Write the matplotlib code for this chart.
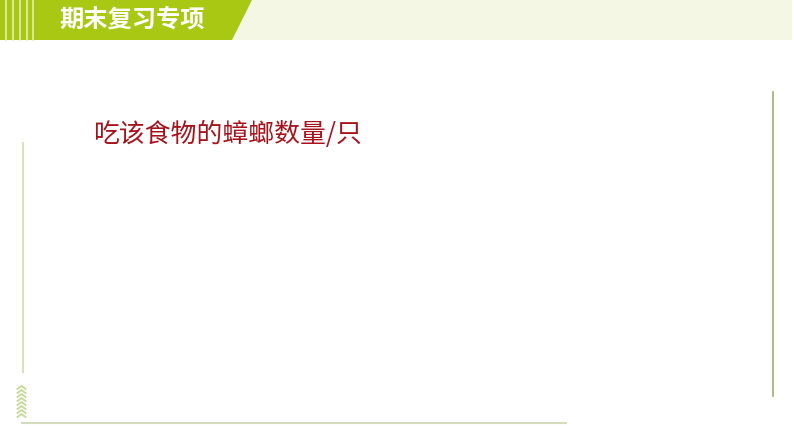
import matplotlib
matplotlib.use("Agg")
import matplotlib.pyplot as plt
from matplotlib.patches import Polygon, Rectangle

plt.rcParams['font.family'] = ['Noto Sans CJK SC', 'DejaVu Sans']

header_title = "期末复习专项"
axis_label = "吃该食物的蟑螂数量/只"
stripe_x = [6, 13, 20, 27, 33]
chevron_y = [386, 390, 394, 398, 402, 406, 410, 414]

W, H = 794, 447
fig = plt.figure(figsize=(W / 100, H / 100), dpi=100)
ax = fig.add_axes([0, 0, 1, 1])
ax.set_xlim(0, W)
ax.set_ylim(H, 0)
ax.axis('off')

# header band
ax.add_patch(Rectangle((0, 0), 792, 40, facecolor='#f4f7e4', edgecolor='none'))
ax.add_patch(Polygon([(0, 0), (252, 0), (232, 40), (0, 40)], closed=True,
                     facecolor='#a8c814', edgecolor='none'))
for x in stripe_x:
    ax.plot([x, x], [0, 40], color='#e6efb8', lw=1.2)
ax.text(132, 20, header_title, color='white', fontsize=17.5, fontweight='bold',
        ha='center', va='center')

# frame lines
ax.plot([22.5, 22.5], [143, 372], color='#d8dfc2', lw=1.5)
ax.plot([22, 566], [423, 423], color='#d3dbbf', lw=1.5)
ax.plot([772.5, 772.5], [92, 396], color='#a2ad6a', lw=1.2)

# chevrons
for y in chevron_y:
    ax.plot([17.5, 21.5, 25.5], [y + 3, y, y + 3], color='#c5d99a', lw=1.3)

# label
ax.text(93, 134, axis_label, color='#a5141c', fontsize=18.6, ha='left', va='center')

fig.savefig('out.png', dpi=100, facecolor='white')
